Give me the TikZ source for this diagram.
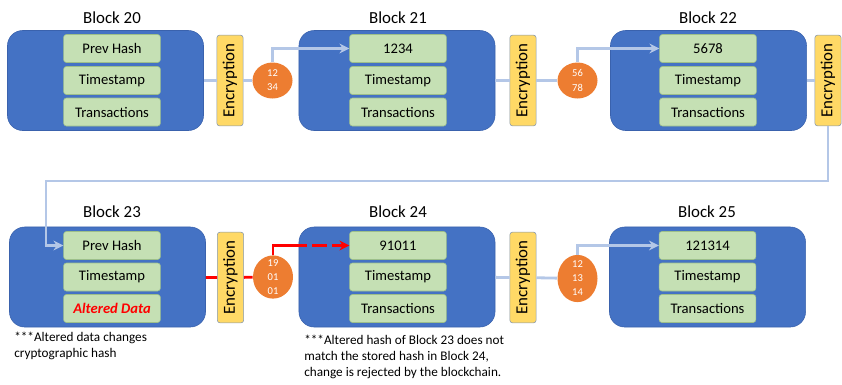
\documentclass[tikz,border=0pt]{standalone}
\usepackage{fontspec}
\setmainfont{Carlito}
\usetikzlibrary{arrows.meta,shapes.geometric}
\definecolor{blkblue}{HTML}{4472C4}
\definecolor{blkline}{HTML}{3A62AD}
\definecolor{fieldgreen}{HTML}{C5E0B4}
\definecolor{fieldline}{HTML}{9DBF8A}
\definecolor{encyellow}{HTML}{FFD966}
\definecolor{encline}{HTML}{8497B0}
\definecolor{hashorange}{HTML}{ED7D31}
\definecolor{linkblue}{HTML}{B4C7E7}
\tikzset{
    >={Stealth[length=7pt,width=7pt]},
    chain/.style={
        blk/.append style={draw=blkline,fill=blkblue,rounded corners=0.38cm,minimum width=4.9cm,minimum height=2.5cm},
        title/.append style={font=\fontsize{12}{14}\selectfont},
        field/.append style={draw=fieldline,fill=fieldgreen,rounded corners=2pt,minimum width=2.42cm,minimum height=0.7cm,font=\fontsize{10.4}{12}\selectfont},
        enc/.append style={draw=encline,fill=encyellow,rounded corners=2pt,rotate=90,minimum width=2.27cm,minimum height=0.66cm,inner sep=0pt,font=\fontsize{12}{14}\selectfont},
        hash/.append style={ellipse,fill=hashorange,text=white,align=center,inner xsep=0pt,minimum width=1cm,font=\fontsize{7.5}{10}\selectfont},
        link/.append style={draw=linkblue,line width=2pt},
        bad/.append style={draw=red,line width=2pt},
        note/.append style={align=left,anchor=north west,inner sep=0pt,font=\fontsize{9.4}{11.4}\selectfont}
    }
}
\newcommand{\altered}[1]{\textcolor{red}{\textbf{\textit{#1}}}}

\begin{document}
\begin{tikzpicture}[chain,x=0.025cm,y=-0.025cm]
    \useasboundingbox (0,0) rectangle (842,384);
    % top row
    \node[blk] (b20) at (105.5,80.5) {};
    \node[title] (t20) at (112,18) {Block 20};
    \node[field] (b20p) at (112,48.5) {Prev Hash};
    \node[field] (b20t) at (112,80.5) {Timestamp};
    \node[field] (b20x) at (112,112) {Transactions};
    \node[enc] (e20) at (230,80.5) {Encryption};
    \node[hash,inner ysep=0pt,minimum height=0.9cm] (h20) at (272.5,80.5) {12\\34};
    \node[blk] (b21) at (397,80.5) {};
    \node[title] (t21) at (398,18) {Block 21};
    \node[field] (b21p) at (398,48.5) {1234};
    \node[field] (b21t) at (398,80.5) {Timestamp};
    \node[field] (b21x) at (398,112) {Transactions};
    \node[enc] (e21) at (523,80.5) {Encryption};
    \node[hash,inner ysep=0pt,minimum height=0.9cm] (h21) at (577.5,80.5) {56\\78};
    \node[blk] (b22) at (708.5,80.5) {};
    \node[title] (t22) at (708,18) {Block 22};
    \node[field] (b22p) at (708,48.5) {5678};
    \node[field] (b22t) at (708,80.5) {Timestamp};
    \node[field] (b22x) at (708,112) {Transactions};
    \node[enc] (e22) at (828,80.5) {Encryption};
    \draw[link] (b20) -- (e20) -- (h20);
    \draw[link,->] (h20.north) |- (b21p.west);
    \draw[link] (b21) -- (e21) -- (h21);
    \draw[link,->] (h21.north) |- (b22p.west);
    \draw[link] (b22) -- (e22);
    % bottom row
    \node[blk] (b23) at (107.5,277) {};
    \node[title] (t23) at (112,212) {Block 23};
    \node[field] (b23p) at (112,245.5) {Prev Hash};
    \node[field] (b23t) at (112,277) {Timestamp};
    \node[field] (b23x) at (112,308.5) {\altered{Altered Data}};
    \node[enc] (e23) at (230.5,277.5) {Encryption};
    \node[hash,inner ysep=-3pt,minimum height=1.08cm] (h23) at (273,277) {19\\01\\01};
    \node[blk] (b24) at (397,277) {};
    \node[title] (t24) at (398,212) {Block 24};
    \node[field] (b24p) at (398,245.5) {91011};
    \node[field] (b24t) at (398,277) {Timestamp};
    \node[field] (b24x) at (398,308.5) {Transactions};
    \node[enc] (e24) at (523,277.5) {Encryption};
    \node[hash,inner ysep=-3pt,minimum height=1.18cm] (h24) at (577.5,278.5) {12\\13\\14};
    \node[blk] (b25) at (707.5,277) {};
    \node[title] (t25) at (707,212) {Block 25};
    \node[field] (b25p) at (707.5,245.5) {121314};
    \node[field] (b25t) at (707.5,277) {Timestamp};
    \node[field] (b25x) at (707.5,308.5) {Transactions};
    \coordinate (wrap) at (46,181);
    \draw[link,->] (e22.west) |- (wrap) |- (b23p.west);
    \draw[bad] (b23) -- (e23) -- (h23);
    \coordinate (cut) at (307,245.5);
    \draw[bad] (h23.north) |- (cut);
    \draw[bad,dash pattern=on 10.5pt off 3.5pt,dash phase=10.5pt,->] (cut) -- (b24p.west);
    \draw[link] (b24) -- (e24) -- (h24);
    \draw[link,->] (h24.north) |- (b25p.west);
    % notes
    \node[note] (n23) at (14,332) {***Altered data changes\\cryptographic hash};
    \node[note] (n24) at (304,335) {***Altered hash of Block 23 does not\\match the stored hash in Block 24,\\change is rejected by the blockchain.};
\end{tikzpicture}
\end{document}
